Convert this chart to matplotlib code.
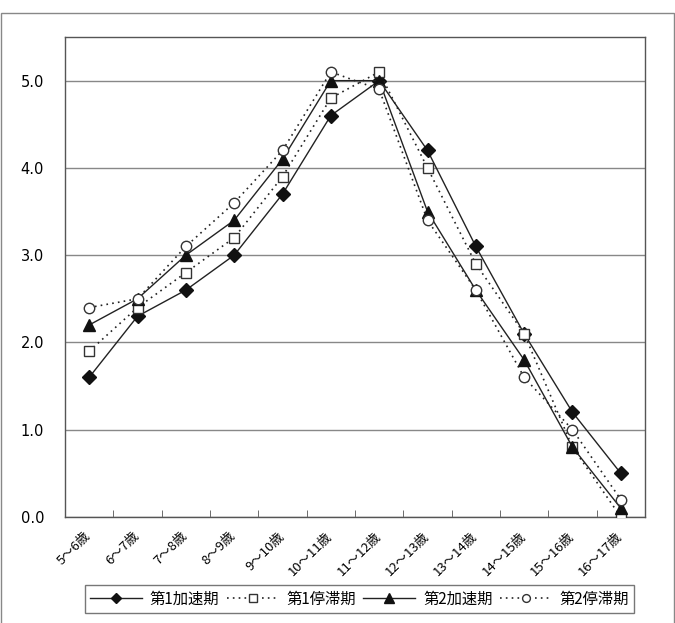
import matplotlib
matplotlib.use("Agg")
import matplotlib.pyplot as plt
from matplotlib.patches import Rectangle
import matplotlib.transforms as mtransforms
import numpy as np

plt.rcParams['font.family'] = ['Noto Sans CJK JP', 'DejaVu Sans']

categories = ["5～6歳", "6～7歳", "7～8歳", "8～9歳", "9～10歳", "10～11歳",
              "11～12歳", "12～13歳", "13～14歳", "14～15歳", "15～16歳", "16～17歳"]
accel1 = [1.6, 2.3, 2.6, 3.0, 3.7, 4.6, 5.0, 4.2, 3.1, 2.1, 1.2, 0.5]
stag1 = [1.9, 2.4, 2.8, 3.2, 3.9, 4.8, 5.1, 4.0, 2.9, 2.1, 0.8, 0.0]
accel2 = [2.2, 2.5, 3.0, 3.4, 4.1, 5.0, 5.0, 3.5, 2.6, 1.8, 0.8, 0.1]
stag2 = [2.4, 2.5, 3.1, 3.6, 4.2, 5.1, 4.9, 3.4, 2.6, 1.6, 1.0, 0.2]
series_names = ["第1加速期", "第1停滞期", "第2加速期", "第2停滞期"]
yticks = [0.0, 1.0, 2.0, 3.0, 4.0, 5.0]

fig = plt.figure(figsize=(6.75, 6.23), dpi=100)
# outer frame
fig.patches.append(Rectangle((0.001, -0.01), 0.997, 0.989, transform=fig.transFigure,
                             fill=False, edgecolor='#888888', linewidth=1.0))
ax = fig.add_axes([65/675, (623-517)/623, (645-65)/675, (517-37)/623])

x = np.arange(len(categories))
c = '#222222'
ax.plot(x, accel1, color=c, lw=1.0, ls='-', marker='D', ms=7, mfc='#111111', mec='#111111',
        label=series_names[0], zorder=3)
ax.plot(x, stag1, color=c, lw=1.2, ls=(0, (1, 2.5)), marker='s', ms=7, mfc='white', mec='#333333',
        mew=1.0, label=series_names[1], zorder=3)
ax.plot(x, accel2, color=c, lw=1.0, ls='-', marker='^', ms=9, mfc='#111111', mec='#111111',
        label=series_names[2], zorder=3)
ax.plot(x, stag2, color=c, lw=1.2, ls=(0, (1, 2.5)), marker='o', ms=7.5, mfc='white', mec='#333333',
        mew=1.0, label=series_names[3], zorder=3)

ax.set_xlim(-0.5, len(categories) - 0.5)
ax.set_ylim(0, 5.5)
ax.set_yticks(yticks)
ax.set_yticklabels([f"{v:.1f}" for v in yticks], fontsize=10.5, family=['DejaVu Sans'])
ax.tick_params(axis='y', length=0, pad=15)
ax.set_xticks(x)
ax.set_xticklabels(categories, rotation=45, ha='right', va='top', fontsize=9.5,
                   rotation_mode='anchor')
ax.tick_params(axis='x', which='major', length=0, pad=9)
offset = mtransforms.ScaledTranslation(-5/100, 0, fig.dpi_scale_trans)
for lbl in ax.get_xticklabels():
    lbl.set_transform(lbl.get_transform() + offset)
ax.set_xticks(np.arange(len(categories) + 1) - 0.5, minor=True)
ax.tick_params(axis='x', which='minor', direction='in', length=5, color='#555555')
ax.grid(axis='y', color='#888888', lw=1.0)
ax.set_axisbelow(True)
for s in ax.spines.values():
    s.set_color('#555555')
    s.set_linewidth(1.0)

leg = fig.legend(loc='center', bbox_to_anchor=(359.5/675, 1 - 599/623), ncol=4,
                 fontsize=11, frameon=True, fancybox=False, edgecolor='#555555',
                 handlelength=3.4, columnspacing=0.5, handletextpad=0.5,
                 borderpad=0.35, markerscale=0.75)
leg.get_frame().set_linewidth(1.0)

fig.savefig("out.png", dpi=100)
